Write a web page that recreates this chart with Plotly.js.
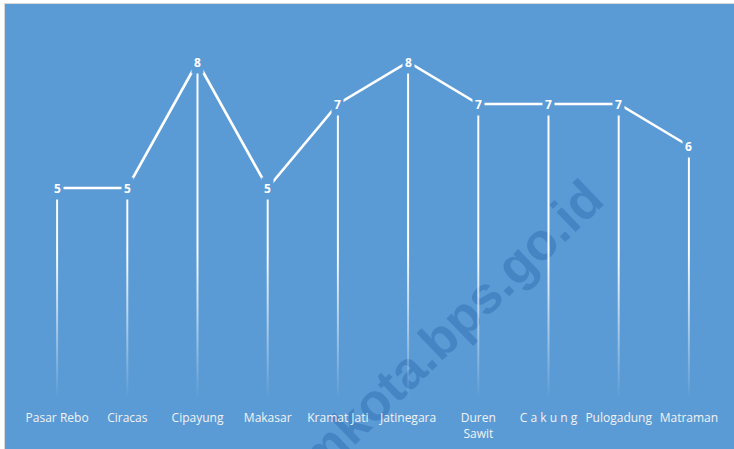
<!DOCTYPE html>
<html><head><meta charset="utf-8">
<script src="https://cdn.plot.ly/plotly-3.0.1.min.js"></script>
<style>
html,body{margin:0;padding:0;background:#fff;overflow:hidden}
#frame{position:absolute;left:4px;top:3px;width:730px;height:446px;border-top:1px solid #d9d9d9;border-left:1px solid #d9d9d9;box-sizing:border-box;background:#5b9bd5;overflow:hidden}
#wm{position:absolute;left:408px;top:360px;transform:translate(-50%,-50%) rotate(-44deg);white-space:nowrap;line-height:1;font-family:"Liberation Sans",Arial,sans-serif;font-weight:bold;font-size:52px;color:rgba(40,100,170,0.4)}
#c{position:absolute;left:0;top:0;width:734px;height:449px}
</style>
</head><body><div id="frame"><div id="wm"></div></div><div id="c"></div>
<script>
const categories = ["Pasar Rebo","Ciracas","Cipayung","Makasar","Kramat Jati","Jatinegara","Duren<br>Sawit","C a k u n g","Pulogadung","Matraman"];
const values = [5,5,8,5,7,8,7,7,7,6];
const watermark = "jaktimkota.bps.go.id";

document.getElementById("wm").textContent = watermark;
const BG = "#5b9bd5";
const idx = categories.map((_, i) => i);
const traces = [];
const hw = 0.014;
values.forEach((v, i) => {
  traces.push({
    x: [i - hw, i + hw, i + hw, i - hw, i - hw],
    y: [0, 0, v, v, 0],
    type: "scatter", mode: "lines", fill: "toself",
    line: {width: 0, color: "rgba(255,255,255,0)"},
    fillgradient: {type: "vertical", start: 0, stop: 3.5,
      colorscale: [[0, "rgba(255,255,255,0)"], [1, "rgba(255,255,255,1)"]]},
    hoverinfo: "skip", showlegend: false
  });
});
traces.push({
  x: idx, y: values, type: "scatter", mode: "lines",
  line: {color: "#ffffff", width: 2.6}, showlegend: false
});

const annotations = [];
values.forEach((v, i) => {
  annotations.push({
    x: i, y: v, xref: "x", yref: "y", text: "<b>" + v + "</b>", showarrow: false,
    bgcolor: BG, borderpad: 2,
    font: {family: "Open Sans, sans-serif", size: 12, color: "#ffffff"}
  });
});

Plotly.newPlot("c", traces, {
  width: 734, height: 449,
  paper_bgcolor: "rgba(0,0,0,0)", plot_bgcolor: "rgba(0,0,0,0)",
  margin: {l: 22, r: 10, t: 20, b: 51},
  xaxis: {range: [-0.5, 9.5], tickvals: idx, ticktext: categories, showgrid: false, zeroline: false,
    showline: false, ticks: "", tickfont: {family: "Open Sans, sans-serif", size: 12, color: "#f2f2f2"}, ticklabelstandoff: 11},
  yaxis: {range: [0, 9], showgrid: false, zeroline: false, showticklabels: false, showline: false, ticks: ""},
  annotations: annotations
}, {staticPlot: true});
</script></body></html>
